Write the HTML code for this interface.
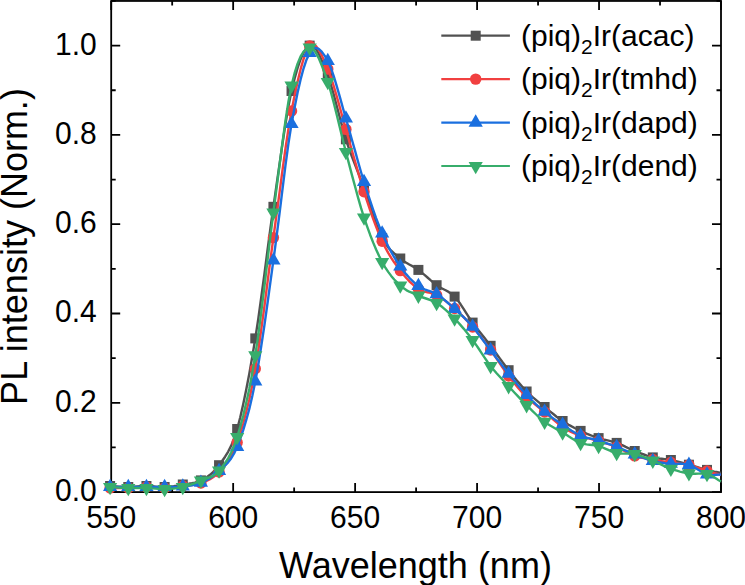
<!DOCTYPE html><html><head><meta charset="utf-8"><style>html,body{margin:0;padding:0;background:#fff;}svg{display:block;}text{font-family:"Liberation Sans",sans-serif;fill:#000;}</style></head><body>
<svg width="745" height="585" viewBox="0 0 745 585">
<rect x="111.20" y="0.95" width="609.80" height="491.15" fill="none" stroke="#000" stroke-width="1.80"/>
<path d="M111.20 492.10V483.10M111.20 0.95V9.95M172.18 492.10V487.60M172.18 0.95V5.45M233.16 492.10V483.10M233.16 0.95V9.95M294.14 492.10V487.60M294.14 0.95V5.45M355.12 492.10V483.10M355.12 0.95V9.95M416.10 492.10V487.60M416.10 0.95V5.45M477.08 492.10V483.10M477.08 0.95V9.95M538.06 492.10V487.60M538.06 0.95V5.45M599.04 492.10V483.10M599.04 0.95V9.95M660.02 492.10V487.60M660.02 0.95V5.45M721.00 492.10V483.10M721.00 0.95V9.95M111.20 492.10H120.20M721.00 492.10H712.00M111.20 447.45H115.70M721.00 447.45H716.50M111.20 402.80H120.20M721.00 402.80H712.00M111.20 358.15H115.70M721.00 358.15H716.50M111.20 313.50H120.20M721.00 313.50H712.00M111.20 268.85H115.70M721.00 268.85H716.50M111.20 224.20H120.20M721.00 224.20H712.00M111.20 179.55H115.70M721.00 179.55H716.50M111.20 134.90H120.20M721.00 134.90H712.00M111.20 90.25H115.70M721.00 90.25H716.50M111.20 45.60H120.20M721.00 45.60H712.00M111.20 0.95H115.70M721.00 0.95H716.50" stroke="#000" stroke-width="1.80" fill="none"/>
<g>
<polyline points="110.1,486.0 113.1,486.2 116.2,486.4 119.2,486.6 122.2,486.8 125.2,486.9 128.3,487.0 131.3,486.9 134.3,486.7 137.4,486.5 140.4,486.3 143.4,486.1 146.4,486.0 149.5,486.1 152.5,486.3 155.5,486.6 158.6,486.9 161.6,487.0 164.6,487.0 167.7,486.8 170.7,486.5 173.7,486.1 176.7,485.6 179.8,485.0 182.8,484.5 185.8,484.0 188.8,483.7 191.9,483.2 194.9,482.6 197.9,481.7 200.9,480.4 203.9,478.8 207.0,476.9 210.0,474.8 213.0,472.2 216.0,469.1 219.0,465.2 222.1,461.0 225.1,456.7 228.1,451.8 231.1,445.9 234.1,438.4 237.2,429.0 240.2,417.5 243.2,404.3 246.2,389.7 249.3,373.7 252.3,356.5 255.3,338.4 258.3,318.7 261.3,297.0 264.4,274.2 267.4,251.0 270.4,228.3 273.4,206.8 276.4,185.8 279.5,164.4 282.5,143.5 285.5,123.8 288.5,106.0 291.5,91.0 294.6,78.5 297.6,67.9 300.6,59.2 303.6,52.5 306.6,48.0 309.7,45.6 312.7,45.8 315.7,48.7 318.7,53.7 321.7,60.2 324.8,67.7 327.8,75.5 330.8,84.3 333.8,94.8 336.8,106.2 339.9,117.9 342.9,129.1 345.9,139.3 348.9,148.3 351.9,156.6 355.0,164.5 358.0,172.2 361.0,180.0 364.0,188.0 367.1,196.6 370.1,205.7 373.1,214.8 376.1,223.5 379.1,231.4 382.2,238.0 385.2,243.2 388.2,247.4 391.2,250.7 394.2,253.4 397.3,256.0 400.3,258.5 403.3,260.9 406.3,262.8 409.3,264.5 412.4,266.1 415.4,267.9 418.4,269.9 421.4,272.3 424.5,274.9 427.5,277.5 430.5,280.2 433.6,282.8 436.6,285.2 439.6,287.2 442.6,288.7 445.6,290.2 448.6,291.9 451.6,293.9 454.6,296.6 457.6,300.1 460.6,304.3 463.6,308.9 466.6,313.6 469.6,318.3 472.6,322.6 475.6,326.6 478.6,330.5 481.6,334.3 484.6,338.1 487.6,341.9 490.6,345.8 493.6,349.8 496.6,354.0 499.6,358.1 502.6,362.3 505.6,366.3 508.6,370.2 511.6,374.0 514.6,377.7 517.6,381.4 520.6,384.9 523.6,388.3 526.6,391.5 529.6,394.4 532.6,397.2 535.6,399.7 538.6,402.2 541.6,404.6 544.6,407.0 547.6,409.5 550.6,411.9 553.6,414.3 556.6,416.7 559.6,418.9 562.6,421.0 565.6,422.9 568.6,424.7 571.6,426.4 574.6,428.0 577.6,429.5 580.6,430.9 583.6,432.3 586.6,433.6 589.6,434.8 592.6,436.0 595.6,437.1 598.6,438.1 601.6,439.0 604.6,439.8 607.6,440.4 610.6,441.1 613.7,441.9 616.7,442.9 619.7,444.1 622.7,445.4 625.7,446.9 628.7,448.3 631.7,449.7 634.7,451.0 637.7,452.2 640.8,453.4 643.8,454.5 646.8,455.6 649.8,456.6 652.8,457.4 655.8,458.0 658.8,458.5 661.8,458.8 664.8,459.1 667.9,459.5 670.9,460.0 673.9,460.7 676.9,461.4 679.9,462.2 682.9,463.0 685.9,463.9 688.9,464.7 692.0,465.6 695.1,466.5 698.2,467.4 701.3,468.3 704.2,469.1 707.0,469.9 709.6,470.5 712.0,471.1 714.3,471.6 716.5,472.0 718.7,472.5 721.0,473.0" fill="none" stroke="#515151" stroke-width="2.4" stroke-linejoin="round"/>
<rect x="105.10" y="481.00" width="10.00" height="10.00" fill="#515151"/>
<rect x="123.28" y="482.00" width="10.00" height="10.00" fill="#515151"/>
<rect x="141.45" y="481.00" width="10.00" height="10.00" fill="#515151"/>
<rect x="159.62" y="482.00" width="10.00" height="10.00" fill="#515151"/>
<rect x="177.80" y="479.50" width="10.00" height="10.00" fill="#515151"/>
<rect x="195.92" y="475.40" width="10.00" height="10.00" fill="#515151"/>
<rect x="214.05" y="460.20" width="10.00" height="10.00" fill="#515151"/>
<rect x="232.17" y="424.00" width="10.00" height="10.00" fill="#515151"/>
<rect x="250.29" y="333.40" width="10.00" height="10.00" fill="#515151"/>
<rect x="268.42" y="201.80" width="10.00" height="10.00" fill="#515151"/>
<rect x="286.54" y="86.00" width="10.00" height="10.00" fill="#515151"/>
<rect x="304.66" y="40.60" width="10.00" height="10.00" fill="#515151"/>
<rect x="322.78" y="70.50" width="10.00" height="10.00" fill="#515151"/>
<rect x="340.91" y="134.30" width="10.00" height="10.00" fill="#515151"/>
<rect x="359.03" y="183.00" width="10.00" height="10.00" fill="#515151"/>
<rect x="377.15" y="233.00" width="10.00" height="10.00" fill="#515151"/>
<rect x="395.28" y="253.50" width="10.00" height="10.00" fill="#515151"/>
<rect x="413.40" y="264.90" width="10.00" height="10.00" fill="#515151"/>
<rect x="431.60" y="280.20" width="10.00" height="10.00" fill="#515151"/>
<rect x="449.60" y="291.60" width="10.00" height="10.00" fill="#515151"/>
<rect x="467.60" y="317.60" width="10.00" height="10.00" fill="#515151"/>
<rect x="485.60" y="340.80" width="10.00" height="10.00" fill="#515151"/>
<rect x="503.60" y="365.20" width="10.00" height="10.00" fill="#515151"/>
<rect x="521.60" y="386.50" width="10.00" height="10.00" fill="#515151"/>
<rect x="539.60" y="402.00" width="10.00" height="10.00" fill="#515151"/>
<rect x="557.60" y="416.00" width="10.00" height="10.00" fill="#515151"/>
<rect x="575.60" y="425.90" width="10.00" height="10.00" fill="#515151"/>
<rect x="593.60" y="433.10" width="10.00" height="10.00" fill="#515151"/>
<rect x="611.67" y="437.90" width="10.00" height="10.00" fill="#515151"/>
<rect x="629.73" y="446.00" width="10.00" height="10.00" fill="#515151"/>
<rect x="647.80" y="452.40" width="10.00" height="10.00" fill="#515151"/>
<rect x="665.87" y="455.00" width="10.00" height="10.00" fill="#515151"/>
<rect x="683.93" y="459.70" width="10.00" height="10.00" fill="#515151"/>
<rect x="702.00" y="464.90" width="10.00" height="10.00" fill="#515151"/>
<polyline points="110.1,488.0 113.1,488.0 116.2,488.0 119.2,488.1 122.2,488.1 125.2,488.1 128.3,488.0 131.3,487.9 134.3,487.7 137.4,487.4 140.4,487.2 143.4,487.1 146.4,487.0 149.5,487.1 152.5,487.3 155.5,487.6 158.6,487.8 161.6,488.0 164.6,488.0 167.7,487.9 170.7,487.6 173.7,487.2 176.7,486.9 179.8,486.4 182.8,486.0 185.8,485.7 188.8,485.4 191.9,485.1 194.9,484.6 197.9,484.0 200.9,483.0 203.9,481.8 207.0,480.6 210.0,479.2 213.0,477.3 216.0,475.0 219.0,472.0 222.1,468.7 225.1,465.2 228.1,461.2 231.1,456.3 234.1,450.2 237.2,442.5 240.2,433.4 243.2,423.3 246.2,412.0 249.3,399.3 252.3,384.9 255.3,368.8 258.3,350.2 261.3,329.2 264.4,306.5 267.4,283.1 270.4,259.9 273.4,237.6 276.4,215.5 279.5,192.8 282.5,170.2 285.5,148.5 288.5,128.5 291.5,111.0 294.6,95.6 297.6,81.5 300.6,69.2 303.6,58.9 306.6,51.0 309.7,46.0 312.7,44.3 315.7,45.8 318.7,49.7 321.7,55.3 324.8,62.0 327.8,69.0 330.8,76.9 333.8,86.3 336.8,96.7 339.9,107.7 342.9,118.8 345.9,129.4 348.9,139.8 351.9,150.5 355.0,161.3 358.0,171.9 361.0,182.1 364.0,191.8 367.1,201.0 370.1,210.0 373.1,218.6 376.1,226.7 379.1,234.3 382.2,241.2 385.2,247.4 388.2,252.9 391.2,257.8 394.2,262.4 397.3,266.6 400.3,270.6 403.3,274.4 406.3,278.0 409.3,281.3 412.4,284.2 415.4,286.8 418.4,289.0 421.4,290.6 424.5,291.6 427.5,292.3 430.5,292.9 433.6,293.7 436.6,295.0 439.6,296.8 442.6,298.8 445.6,301.0 448.6,303.4 451.6,305.9 454.6,308.5 457.6,311.2 460.6,314.1 463.6,317.2 466.6,320.3 469.6,323.6 472.6,327.0 475.6,330.5 478.6,334.2 481.6,338.0 484.6,341.9 487.6,345.9 490.6,350.0 493.6,354.2 496.6,358.6 499.6,363.1 502.6,367.6 505.6,371.9 508.6,376.0 511.6,379.9 514.6,383.6 517.6,387.2 520.6,390.6 523.6,393.9 526.6,397.0 529.6,399.8 532.6,402.4 535.6,404.9 538.6,407.2 541.6,409.6 544.6,412.0 547.6,414.6 550.6,417.2 553.6,419.9 556.6,422.4 559.6,424.8 562.6,427.0 565.6,428.9 568.6,430.6 571.6,432.1 574.6,433.5 577.6,434.8 580.6,436.0 583.6,437.1 586.6,437.9 589.6,438.7 592.6,439.4 595.6,440.2 598.6,441.0 601.6,441.9 604.6,442.8 607.6,443.8 610.6,444.7 613.7,445.8 616.7,447.0 619.7,448.4 622.7,449.9 625.7,451.6 628.7,453.2 631.7,454.7 634.7,455.9 637.7,456.8 640.8,457.5 643.8,458.1 646.8,458.5 649.8,459.0 652.8,459.5 655.8,460.0 658.8,460.6 661.8,461.1 664.8,461.6 667.9,462.0 670.9,462.5 673.9,462.9 676.9,463.2 679.9,463.6 682.9,463.9 685.9,464.4 688.9,465.0 692.0,465.8 695.1,466.8 698.2,467.9 701.3,469.0 704.2,470.1 707.0,471.0 709.6,471.8 712.0,472.5 714.3,473.1 716.5,473.7 718.7,474.4 721.0,475.0" fill="none" stroke="#F14040" stroke-width="2.4" stroke-linejoin="round"/>
<circle cx="110.10" cy="488.00" r="5.7" fill="#F14040"/>
<circle cx="128.28" cy="488.00" r="5.7" fill="#F14040"/>
<circle cx="146.45" cy="487.00" r="5.7" fill="#F14040"/>
<circle cx="164.62" cy="488.00" r="5.7" fill="#F14040"/>
<circle cx="182.80" cy="486.00" r="5.7" fill="#F14040"/>
<circle cx="200.92" cy="483.00" r="5.7" fill="#F14040"/>
<circle cx="219.05" cy="472.00" r="5.7" fill="#F14040"/>
<circle cx="237.17" cy="442.50" r="5.7" fill="#F14040"/>
<circle cx="255.29" cy="368.80" r="5.7" fill="#F14040"/>
<circle cx="273.42" cy="237.60" r="5.7" fill="#F14040"/>
<circle cx="291.54" cy="111.00" r="5.7" fill="#F14040"/>
<circle cx="309.66" cy="46.00" r="5.7" fill="#F14040"/>
<circle cx="327.78" cy="69.00" r="5.7" fill="#F14040"/>
<circle cx="345.91" cy="129.40" r="5.7" fill="#F14040"/>
<circle cx="364.03" cy="191.80" r="5.7" fill="#F14040"/>
<circle cx="382.15" cy="241.20" r="5.7" fill="#F14040"/>
<circle cx="400.28" cy="270.60" r="5.7" fill="#F14040"/>
<circle cx="418.40" cy="289.00" r="5.7" fill="#F14040"/>
<circle cx="436.60" cy="295.00" r="5.7" fill="#F14040"/>
<circle cx="454.60" cy="308.50" r="5.7" fill="#F14040"/>
<circle cx="472.60" cy="327.00" r="5.7" fill="#F14040"/>
<circle cx="490.60" cy="350.00" r="5.7" fill="#F14040"/>
<circle cx="508.60" cy="376.00" r="5.7" fill="#F14040"/>
<circle cx="526.60" cy="397.00" r="5.7" fill="#F14040"/>
<circle cx="544.60" cy="412.00" r="5.7" fill="#F14040"/>
<circle cx="562.60" cy="427.00" r="5.7" fill="#F14040"/>
<circle cx="580.60" cy="436.00" r="5.7" fill="#F14040"/>
<circle cx="598.60" cy="441.00" r="5.7" fill="#F14040"/>
<circle cx="616.67" cy="447.00" r="5.7" fill="#F14040"/>
<circle cx="634.73" cy="455.90" r="5.7" fill="#F14040"/>
<circle cx="652.80" cy="459.50" r="5.7" fill="#F14040"/>
<circle cx="670.87" cy="462.50" r="5.7" fill="#F14040"/>
<circle cx="688.93" cy="465.00" r="5.7" fill="#F14040"/>
<circle cx="707.00" cy="471.00" r="5.7" fill="#F14040"/>
<polyline points="110.1,487.0 113.1,487.0 116.2,487.0 119.2,487.0 122.2,487.0 125.2,487.0 128.3,487.0 131.3,487.0 134.3,487.0 137.4,487.0 140.4,487.0 143.4,487.0 146.4,487.0 149.5,487.0 152.5,487.0 155.5,487.0 158.6,487.0 161.6,487.0 164.6,487.0 167.7,487.0 170.7,487.0 173.7,487.0 176.7,486.9 179.8,486.8 182.8,486.5 185.8,486.1 188.8,485.7 191.9,485.2 194.9,484.6 197.9,483.7 200.9,482.6 203.9,481.3 207.0,479.8 210.0,478.1 213.0,476.1 216.0,473.8 219.0,471.0 222.1,468.2 225.1,465.4 228.1,462.3 231.1,458.4 234.1,453.4 237.2,446.8 240.2,438.9 243.2,430.1 246.2,420.2 249.3,408.9 252.3,396.1 255.3,381.5 258.3,364.7 261.3,345.8 264.4,325.4 267.4,304.0 270.4,282.1 273.4,260.4 276.4,237.8 279.5,213.6 282.5,189.1 285.5,165.2 288.5,143.1 291.5,124.0 294.6,107.5 297.6,92.5 300.6,79.4 303.6,68.3 306.6,59.4 309.7,52.9 312.7,49.1 315.7,47.9 318.7,48.9 321.7,51.7 324.8,55.9 327.8,61.0 330.8,67.7 333.8,76.3 336.8,86.3 339.9,97.1 342.9,108.0 345.9,118.5 348.9,128.9 351.9,139.7 355.0,150.6 358.0,161.5 361.0,172.0 364.0,182.0 367.1,191.5 370.1,200.7 373.1,209.6 376.1,218.1 379.1,226.0 382.2,233.4 385.2,240.1 388.2,246.3 391.2,251.9 394.2,257.2 397.3,262.0 400.3,266.5 403.3,270.7 406.3,274.4 409.3,277.8 412.4,280.8 415.4,283.6 418.4,286.0 421.4,287.9 424.5,289.3 427.5,290.4 430.5,291.4 433.6,292.6 436.6,294.2 439.6,296.2 442.6,298.5 445.6,300.9 448.6,303.5 451.6,306.1 454.6,308.8 457.6,311.5 460.6,314.3 463.6,317.2 466.6,320.2 469.6,323.3 472.6,326.7 475.6,330.3 478.6,334.2 481.6,338.2 484.6,342.2 487.6,346.3 490.6,350.3 493.6,354.2 496.6,358.2 499.6,362.1 502.6,366.1 505.6,369.9 508.6,373.7 511.6,377.4 514.6,381.1 517.6,384.8 520.6,388.3 523.6,391.7 526.6,395.0 529.6,398.1 532.6,401.0 535.6,403.9 538.6,406.6 541.6,409.2 544.6,411.7 547.6,414.1 550.6,416.4 553.6,418.6 556.6,420.7 559.6,422.7 562.6,424.7 565.6,426.7 568.6,428.7 571.6,430.7 574.6,432.5 577.6,434.2 580.6,435.6 583.6,436.7 586.6,437.6 589.6,438.3 592.6,439.0 595.6,439.7 598.6,440.5 601.6,441.5 604.6,442.5 607.6,443.6 610.6,444.7 613.7,445.9 616.7,447.0 619.7,448.2 622.7,449.4 625.7,450.6 628.7,451.9 631.7,453.1 634.7,454.3 637.7,455.5 640.8,456.7 643.8,457.9 646.8,459.1 649.8,460.1 652.8,461.0 655.8,461.7 658.8,462.3 661.8,462.7 664.8,463.1 667.9,463.4 670.9,463.7 673.9,463.9 676.9,463.9 679.9,463.8 682.9,463.9 685.9,464.1 688.9,464.8 692.0,466.0 695.1,467.7 698.2,469.7 701.3,471.6 704.2,473.3 707.0,474.4 709.6,475.0 712.0,475.1 714.3,475.0 716.5,474.8 718.7,474.6 721.0,474.5" fill="none" stroke="#1A6FDF" stroke-width="2.4" stroke-linejoin="round"/>
<path d="M110.10 478.80L117.20 491.10L103.00 491.10Z" fill="#1A6FDF"/>
<path d="M128.28 478.80L135.38 491.10L121.18 491.10Z" fill="#1A6FDF"/>
<path d="M146.45 478.80L153.55 491.10L139.35 491.10Z" fill="#1A6FDF"/>
<path d="M164.62 478.80L171.72 491.10L157.53 491.10Z" fill="#1A6FDF"/>
<path d="M182.80 478.30L189.90 490.60L175.70 490.60Z" fill="#1A6FDF"/>
<path d="M200.92 474.40L208.02 486.70L193.82 486.70Z" fill="#1A6FDF"/>
<path d="M219.05 462.80L226.15 475.10L211.95 475.10Z" fill="#1A6FDF"/>
<path d="M237.17 438.60L244.27 450.90L230.07 450.90Z" fill="#1A6FDF"/>
<path d="M255.29 373.30L262.39 385.60L248.19 385.60Z" fill="#1A6FDF"/>
<path d="M273.42 252.20L280.52 264.50L266.32 264.50Z" fill="#1A6FDF"/>
<path d="M291.54 115.80L298.64 128.10L284.44 128.10Z" fill="#1A6FDF"/>
<path d="M309.66 44.70L316.76 57.00L302.56 57.00Z" fill="#1A6FDF"/>
<path d="M327.78 52.80L334.88 65.10L320.68 65.10Z" fill="#1A6FDF"/>
<path d="M345.91 110.30L353.01 122.60L338.81 122.60Z" fill="#1A6FDF"/>
<path d="M364.03 173.80L371.13 186.10L356.93 186.10Z" fill="#1A6FDF"/>
<path d="M382.15 225.20L389.25 237.50L375.05 237.50Z" fill="#1A6FDF"/>
<path d="M400.28 258.30L407.38 270.60L393.18 270.60Z" fill="#1A6FDF"/>
<path d="M418.40 277.80L425.50 290.10L411.30 290.10Z" fill="#1A6FDF"/>
<path d="M436.60 286.00L443.70 298.30L429.50 298.30Z" fill="#1A6FDF"/>
<path d="M454.60 300.60L461.70 312.90L447.50 312.90Z" fill="#1A6FDF"/>
<path d="M472.60 318.50L479.70 330.80L465.50 330.80Z" fill="#1A6FDF"/>
<path d="M490.60 342.10L497.70 354.40L483.50 354.40Z" fill="#1A6FDF"/>
<path d="M508.60 365.50L515.70 377.80L501.50 377.80Z" fill="#1A6FDF"/>
<path d="M526.60 386.80L533.70 399.10L519.50 399.10Z" fill="#1A6FDF"/>
<path d="M544.60 403.50L551.70 415.80L537.50 415.80Z" fill="#1A6FDF"/>
<path d="M562.60 416.50L569.70 428.80L555.50 428.80Z" fill="#1A6FDF"/>
<path d="M580.60 427.40L587.70 439.70L573.50 439.70Z" fill="#1A6FDF"/>
<path d="M598.60 432.30L605.70 444.60L591.50 444.60Z" fill="#1A6FDF"/>
<path d="M616.67 438.80L623.77 451.10L609.57 451.10Z" fill="#1A6FDF"/>
<path d="M634.73 446.10L641.83 458.40L627.63 458.40Z" fill="#1A6FDF"/>
<path d="M652.80 452.80L659.90 465.10L645.70 465.10Z" fill="#1A6FDF"/>
<path d="M670.87 455.50L677.97 467.80L663.77 467.80Z" fill="#1A6FDF"/>
<path d="M688.93 456.60L696.03 468.90L681.83 468.90Z" fill="#1A6FDF"/>
<path d="M707.00 466.20L714.10 478.50L699.90 478.50Z" fill="#1A6FDF"/>
<polyline points="110.1,487.0 113.1,487.2 116.2,487.4 119.2,487.6 122.2,487.7 125.2,487.9 128.3,488.0 131.3,488.0 134.3,488.0 137.4,488.0 140.4,488.0 143.4,488.0 146.4,488.0 149.5,488.1 152.5,488.4 155.5,488.6 158.6,488.9 161.6,489.0 164.6,489.0 167.7,488.9 170.7,488.7 173.7,488.5 176.7,488.1 179.8,487.6 182.8,487.0 185.8,486.2 188.8,485.3 191.9,484.2 194.9,483.1 197.9,481.8 200.9,480.5 203.9,479.3 207.0,478.3 210.0,477.2 213.0,475.8 216.0,473.7 219.0,470.6 222.1,466.9 225.1,462.9 228.1,458.3 231.1,452.6 234.1,445.7 237.2,437.0 240.2,426.9 243.2,415.6 246.2,403.0 249.3,388.8 252.3,373.0 255.3,355.3 258.3,334.9 261.3,311.6 264.4,286.7 267.4,261.2 270.4,236.1 273.4,212.5 276.4,189.4 279.5,165.7 282.5,142.4 285.5,120.6 288.5,101.3 291.5,85.5 294.6,73.2 297.6,63.6 300.6,56.5 303.6,51.7 306.6,48.8 309.7,47.7 312.7,48.8 315.7,52.5 318.7,58.1 321.7,65.3 324.8,73.4 327.8,82.0 330.8,91.7 333.8,102.9 336.8,115.0 339.9,127.7 342.9,140.2 345.9,152.0 348.9,163.4 351.9,174.9 355.0,186.3 358.0,197.4 361.0,207.9 364.0,217.5 367.1,226.4 370.1,234.7 373.1,242.4 376.1,249.5 379.1,256.0 382.2,262.0 385.2,267.3 388.2,271.9 391.2,275.9 394.2,279.5 397.3,282.7 400.3,285.6 403.3,288.1 406.3,290.1 409.3,291.7 412.4,293.0 415.4,294.3 418.4,295.7 421.4,297.0 424.5,298.0 427.5,299.0 430.5,300.1 433.6,301.3 436.6,303.0 439.6,305.0 442.6,307.3 445.6,309.9 448.6,312.6 451.6,315.5 454.6,318.5 457.6,321.7 460.6,325.1 463.6,328.6 466.6,332.3 469.6,336.1 472.6,340.0 475.6,344.1 478.6,348.5 481.6,353.1 484.6,357.6 487.6,362.0 490.6,366.0 493.6,369.7 496.6,373.2 499.6,376.5 502.6,379.8 505.6,383.0 508.6,386.2 511.6,389.5 514.6,392.7 517.6,395.9 520.6,399.1 523.6,402.2 526.6,405.2 529.6,408.2 532.6,411.1 535.6,414.0 538.6,416.8 541.6,419.4 544.6,421.8 547.6,423.9 550.6,425.8 553.6,427.5 556.6,429.2 559.6,430.8 562.6,432.5 565.6,434.3 568.6,436.3 571.6,438.2 574.6,440.1 577.6,441.7 580.6,443.0 583.6,443.9 586.6,444.4 589.6,444.7 592.6,445.0 595.6,445.4 598.6,446.0 601.6,447.0 604.6,448.3 607.6,449.6 610.6,451.0 613.7,452.1 616.7,453.0 619.7,453.5 622.7,453.6 625.7,453.6 628.7,453.5 631.7,453.7 634.7,454.1 637.7,454.9 640.8,455.8 643.8,457.0 646.8,458.2 649.8,459.4 652.8,460.7 655.8,462.0 658.8,463.4 661.8,464.9 664.8,466.3 667.9,467.6 670.9,468.8 673.9,469.8 676.9,470.7 679.9,471.6 682.9,472.3 685.9,472.9 688.9,473.4 692.0,473.7 695.1,473.7 698.2,473.6 701.3,473.5 704.2,473.6 707.0,474.1 709.6,474.9 712.0,476.1 714.3,477.4 716.5,478.8 718.7,480.2 721.0,481.5" fill="none" stroke="#37AD6B" stroke-width="2.4" stroke-linejoin="round"/>
<path d="M110.10 495.20L117.20 482.90L103.00 482.90Z" fill="#37AD6B"/>
<path d="M128.28 496.20L135.38 483.90L121.18 483.90Z" fill="#37AD6B"/>
<path d="M146.45 496.20L153.55 483.90L139.35 483.90Z" fill="#37AD6B"/>
<path d="M164.62 497.20L171.72 484.90L157.53 484.90Z" fill="#37AD6B"/>
<path d="M182.80 495.20L189.90 482.90L175.70 482.90Z" fill="#37AD6B"/>
<path d="M200.92 488.70L208.02 476.40L193.82 476.40Z" fill="#37AD6B"/>
<path d="M219.05 478.80L226.15 466.50L211.95 466.50Z" fill="#37AD6B"/>
<path d="M237.17 445.20L244.27 432.90L230.07 432.90Z" fill="#37AD6B"/>
<path d="M255.29 363.50L262.39 351.20L248.19 351.20Z" fill="#37AD6B"/>
<path d="M273.42 220.70L280.52 208.40L266.32 208.40Z" fill="#37AD6B"/>
<path d="M291.54 93.70L298.64 81.40L284.44 81.40Z" fill="#37AD6B"/>
<path d="M309.66 55.90L316.76 43.60L302.56 43.60Z" fill="#37AD6B"/>
<path d="M327.78 90.20L334.88 77.90L320.68 77.90Z" fill="#37AD6B"/>
<path d="M345.91 160.20L353.01 147.90L338.81 147.90Z" fill="#37AD6B"/>
<path d="M364.03 225.70L371.13 213.40L356.93 213.40Z" fill="#37AD6B"/>
<path d="M382.15 270.20L389.25 257.90L375.05 257.90Z" fill="#37AD6B"/>
<path d="M400.28 293.80L407.38 281.50L393.18 281.50Z" fill="#37AD6B"/>
<path d="M418.40 303.90L425.50 291.60L411.30 291.60Z" fill="#37AD6B"/>
<path d="M436.60 311.20L443.70 298.90L429.50 298.90Z" fill="#37AD6B"/>
<path d="M454.60 326.70L461.70 314.40L447.50 314.40Z" fill="#37AD6B"/>
<path d="M472.60 348.20L479.70 335.90L465.50 335.90Z" fill="#37AD6B"/>
<path d="M490.60 374.20L497.70 361.90L483.50 361.90Z" fill="#37AD6B"/>
<path d="M508.60 394.40L515.70 382.10L501.50 382.10Z" fill="#37AD6B"/>
<path d="M526.60 413.40L533.70 401.10L519.50 401.10Z" fill="#37AD6B"/>
<path d="M544.60 430.00L551.70 417.70L537.50 417.70Z" fill="#37AD6B"/>
<path d="M562.60 440.70L569.70 428.40L555.50 428.40Z" fill="#37AD6B"/>
<path d="M580.60 451.20L587.70 438.90L573.50 438.90Z" fill="#37AD6B"/>
<path d="M598.60 454.20L605.70 441.90L591.50 441.90Z" fill="#37AD6B"/>
<path d="M616.67 461.20L623.77 448.90L609.57 448.90Z" fill="#37AD6B"/>
<path d="M634.73 462.30L641.83 450.00L627.63 450.00Z" fill="#37AD6B"/>
<path d="M652.80 468.90L659.90 456.60L645.70 456.60Z" fill="#37AD6B"/>
<path d="M670.87 477.00L677.97 464.70L663.77 464.70Z" fill="#37AD6B"/>
<path d="M688.93 481.60L696.03 469.30L681.83 469.30Z" fill="#37AD6B"/>
<path d="M707.00 482.30L714.10 470.00L699.90 470.00Z" fill="#37AD6B"/>
</g>
<text transform="translate(111.20 527.5) scale(1 1.06)" font-size="30" text-anchor="middle">550</text>
<text transform="translate(233.16 527.5) scale(1 1.06)" font-size="30" text-anchor="middle">600</text>
<text transform="translate(355.12 527.5) scale(1 1.06)" font-size="30" text-anchor="middle">650</text>
<text transform="translate(477.08 527.5) scale(1 1.06)" font-size="30" text-anchor="middle">700</text>
<text transform="translate(599.04 527.5) scale(1 1.06)" font-size="30" text-anchor="middle">750</text>
<text transform="translate(721.00 527.5) scale(1 1.06)" font-size="30" text-anchor="middle">800</text>
<text transform="translate(96.8 501.00) scale(1 1.06)" font-size="30" text-anchor="end">0.0</text>
<text transform="translate(96.8 411.70) scale(1 1.06)" font-size="30" text-anchor="end">0.2</text>
<text transform="translate(96.8 322.40) scale(1 1.06)" font-size="30" text-anchor="end">0.4</text>
<text transform="translate(96.8 233.10) scale(1 1.06)" font-size="30" text-anchor="end">0.6</text>
<text transform="translate(96.8 143.80) scale(1 1.06)" font-size="30" text-anchor="end">0.8</text>
<text transform="translate(96.8 54.50) scale(1 1.06)" font-size="30" text-anchor="end">1.0</text>
<text x="415.5" y="577.5" font-size="36" text-anchor="middle">Wavelength (nm)</text>
<text transform="translate(26.5 246.5) rotate(-90)" x="0" y="0" font-size="36" text-anchor="middle">PL intensity (Norm.)</text>
<path d="M441.3 35.70H509.9" stroke="#515151" stroke-width="2.2"/>
<rect x="470.70" y="30.70" width="10.00" height="10.00" fill="#515151"/>
<text x="521" y="45.90" font-size="30">(piq)<tspan font-size="21" dy="7.9">2</tspan><tspan dy="-7.9">Ir(acac)</tspan></text>
<path d="M441.3 79.13H509.9" stroke="#F14040" stroke-width="2.2"/>
<circle cx="475.70" cy="79.13" r="5.7" fill="#F14040"/>
<text x="521" y="89.33" font-size="30">(piq)<tspan font-size="21" dy="7.9">2</tspan><tspan dy="-7.9">Ir(tmhd)</tspan></text>
<path d="M441.3 122.56H509.9" stroke="#1A6FDF" stroke-width="2.2"/>
<path d="M475.70 114.36L482.80 126.66L468.60 126.66Z" fill="#1A6FDF"/>
<text x="521" y="132.76" font-size="30">(piq)<tspan font-size="21" dy="7.9">2</tspan><tspan dy="-7.9">Ir(dapd)</tspan></text>
<path d="M441.3 165.99H509.9" stroke="#37AD6B" stroke-width="2.2"/>
<path d="M475.70 174.19L482.80 161.89L468.60 161.89Z" fill="#37AD6B"/>
<text x="521" y="176.19" font-size="30">(piq)<tspan font-size="21" dy="7.9">2</tspan><tspan dy="-7.9">Ir(dend)</tspan></text>
</svg></body></html>
